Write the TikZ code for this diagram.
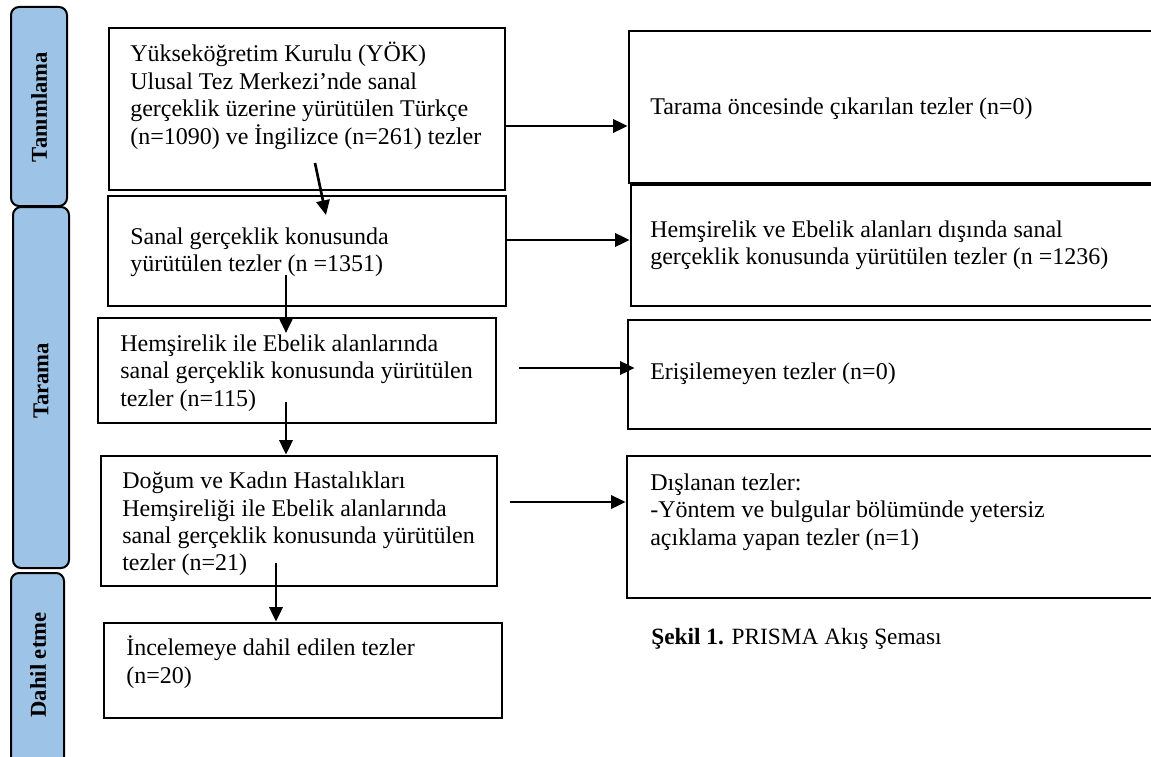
\documentclass[tikz,border=0pt]{standalone}
\usepackage{fontspec}
\setmainfont{Liberation Serif}
\usetikzlibrary{arrows.meta,fit,positioning}
\definecolor{barblue}{RGB}{157,195,230}
\begin{document}
\begin{tikzpicture}[x=0.75pt,y=-0.75pt,
  boxstyle/.style={draw=black,line width=2pt,inner sep=0pt,rectangle},
  barstyle/.style={draw=black,fill=barblue,line width=1.5pt,inner sep=0pt,rounded corners=6pt,rectangle},
  txt/.style={anchor=west,align=left,inner sep=0pt,font=\fontsize{18}{20.6}\selectfont},
  lab/.style={rotate=90,inner sep=0pt,font=\fontsize{17}{20}\selectfont\bfseries},
  arr/.style={line width=2pt,-{Triangle[length=11pt,width=10pt]}}]
\clip (0,0) rectangle (1151,756);
\fill[white] (0,0) rectangle (1151,756);
% side bars
\node[barstyle,fit={(11,7) (67,206)}] (bar1) {};
\node[barstyle,fit={(13,207) (69,568)}] (bar2) {};
\node[barstyle,fit={(11,573) (64,790)}] (bar3) {};
\node[lab] (l1) at (39,107) {Tanımlama};
\node[lab] (l2) at (41,381) {Tarama};
\node[lab] (l3) at (38,665) {Dahil etme};
% left boxes
\node[boxstyle,fit={(109,28) (505,190)}] (b1) {};
\node[boxstyle,fit={(108,196) (506,306)}] (b2) {};
\node[boxstyle,fit={(98,318) (496,423)}] (b3) {};
\node[boxstyle,fit={(101,456) (497,586)}] (b4) {};
\node[boxstyle,fit={(104,623) (502,718)}] (b5) {};
% right boxes
\node[boxstyle,fit={(629,31) (1170,183)}] (r1) {};
\node[boxstyle,fit={(631,185) (1170,306)}] (r2) {};
\node[boxstyle,fit={(628,320) (1170,429)}] (r3) {};
\node[boxstyle,fit={(627,456) (1170,598)}] (r4) {};
% texts
\node[txt] (t1) at (130,96) {Yükseköğretim Kurulu (YÖK)\\Ulusal Tez Merkezi’nde sanal\\gerçeklik üzerine yürütülen Türkçe\\(n=1090) ve İngilizce (n=261) tezler};
\node[txt] (t2) at (130,252) {Sanal gerçeklik konusunda\\yürütülen tezler (n =1351)};
\node[txt] (t3) at (120,373) {Hemşirelik ile Ebelik alanlarında\\sanal gerçeklik konusunda yürütülen\\tezler (n=115)};
\node[txt] (t4) at (122,524) {Doğum ve Kadın Hastalıkları\\Hemşireliği ile Ebelik alanlarında\\sanal gerçeklik konusunda yürütülen\\tezler (n=21)};
\node[txt] (t5) at (126,662) {İncelemeye dahil edilen tezler\\(n=20)};
\node[txt] (u1) at (650,109) {Tarama öncesinde çıkarılan tezler (n=0)};
\node[txt] (u2) at (650,245) {Hemşirelik ve Ebelik alanları dışında sanal\\gerçeklik konusunda yürütülen tezler (n =1236)};
\node[txt] (u3) at (650,374) {Erişilemeyen tezler (n=0)};
\node[txt] (u4) at (650,512) {Dışlanan tezler:\\-Yöntem ve bulgular bölümünde yetersiz\\açıklama yapan tezler (n=1)};
\node[txt,font=\fontsize{17.5}{20}\selectfont] (cap) at (651,639) {\textbf{Şekil 1.} PRISMA Akış Şeması};
% connector coordinates
\coordinate (y1) at (0,126);
\coordinate (y2) at (0,240);
\coordinate (s3) at (519,368);
\coordinate (s4) at (510,502);
\coordinate (d1s) at (315,163);
\coordinate (d1e) at (326,215);
\coordinate (d2s) at (286,275);
\coordinate (d2e) at (286,333);
\coordinate (d3s) at (286,402);
\coordinate (d4s) at (276,563);
% connectors
\draw[arr] (b1.east |- y1) -- (r1.west |- y1);
\draw[arr] (b2.east |- y2) -- (r2.west |- y2);
\draw[arr] (s3) -- ([xshift=6pt]r3.west |- s3);
\draw[arr] (s4) -- (r4.west |- s4);
\draw[arr] (d1s) -- (d1e);
\draw[arr] (d2s) -- (d2e);
\draw[arr] (d3s) -- (b4.north -| d3s);
\draw[arr] (d4s) -- (b5.north -| d4s);
\end{tikzpicture}
\end{document}
